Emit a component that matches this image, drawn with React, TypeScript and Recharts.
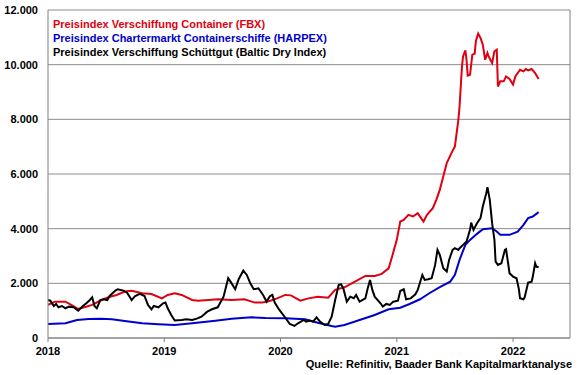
import React from 'react';
import { LineChart, Line, XAxis, YAxis, CartesianGrid, Legend, ReferenceLine } from 'recharts';

const FONT = '"Liberation Sans", Arial, Helvetica, sans-serif';

const seriesNames = [
  'Preisindex Verschiffung Container (FBX)',
  'Preisindex Chartermarkt Containerschiffe (HARPEX)',
  'Preisindex Verschiffung Schüttgut (Baltic Dry Index)',
];
const seriesColors = ['#E00010', '#0000CC', '#000000'];

const yearTicks = [2018, 2019, 2020, 2021, 2022];
const valueTicks = [0, 2000, 4000, 6000, 8000, 10000, 12000];
const xStart = 2018;
const xEnd = 2022.49;
const sourceNote = 'Quelle: Refinitiv, Baader Bank Kapitalmarktanalyse';

// FBX (container freight index)
const fbxDates = [
  2018.0, 2018.06, 2018.15, 2018.2, 2018.26, 2018.32, 2018.38, 2018.46, 2018.52, 2018.59, 2018.66, 2018.72, 2018.81, 2018.89, 2018.98,
  2019.03, 2019.09, 2019.15, 2019.24, 2019.29, 2019.38, 2019.46, 2019.58, 2019.69, 2019.78, 2019.84, 2019.89, 2019.95,
  2020.04, 2020.09, 2020.17, 2020.24, 2020.32, 2020.41, 2020.47, 2020.55, 2020.64, 2020.73, 2020.81, 2020.87, 2020.93, 2020.96,
  2021.0, 2021.03, 2021.06, 2021.1, 2021.14, 2021.18, 2021.23, 2021.26, 2021.31, 2021.34, 2021.37, 2021.43, 2021.47, 2021.5, 2021.53,
  2021.54, 2021.56, 2021.57, 2021.59, 2021.6, 2021.61, 2021.63, 2021.65, 2021.67, 2021.68, 2021.7, 2021.72, 2021.74, 2021.76, 2021.78,
  2021.79, 2021.82, 2021.84, 2021.86, 2021.87, 2021.89, 2021.92, 2021.94, 2021.97,
  2022.0, 2022.02, 2022.06, 2022.09, 2022.11, 2022.13, 2022.16, 2022.19, 2022.22,
];
const fbxValues = [
  1210, 1330, 1330, 1210, 1060, 1135, 1210, 1390, 1490, 1575, 1700, 1730, 1635, 1610, 1450,
  1575, 1640, 1575, 1390, 1365, 1390, 1415, 1390, 1415, 1295, 1295, 1330, 1415,
  1575, 1560, 1365, 1450, 1510, 1475, 1760, 1855, 2060, 2270, 2270, 2345, 2550, 2980,
  3590, 4260, 4320, 4505, 4445, 4565, 4260, 4505, 4750, 5055, 5420, 6400, 6765, 7010, 7985,
  8470, 9880, 10300, 10520, 10180, 9600, 9630, 10365, 10400, 10855, 11135, 10980, 10730, 10180, 10430,
  10300, 10060, 10490, 10550, 9200, 9390, 9390, 9570, 9475,
  9270, 9570, 9815, 9755, 9840, 9790, 9840, 9695, 9475,
];

// HARPEX (container ship charter index)
const harpexDates = [
  2018.0, 2018.15, 2018.25, 2018.35, 2018.46, 2018.55, 2018.66, 2018.81, 2018.95,
  2019.09, 2019.24, 2019.44, 2019.58, 2019.75, 2019.87,
  2020.04, 2020.21, 2020.32, 2020.44, 2020.47, 2020.55, 2020.7, 2020.81, 2020.93,
  2021.03, 2021.11, 2021.2, 2021.28, 2021.37, 2021.46, 2021.5, 2021.54, 2021.59, 2021.63, 2021.69, 2021.74, 2021.82, 2021.86, 2021.89, 2021.97,
  2022.04, 2022.09, 2022.13, 2022.17, 2022.22,
];
const harpexValues = [
  513, 537, 660, 695, 707, 685, 623, 537, 500,
  476, 537, 635, 707, 757, 733,
  720, 685, 560, 440, 415, 476, 685, 842, 1050,
  1110, 1245, 1417, 1637, 1857, 2062, 2308, 2857, 3407, 3590, 3810, 3981, 4018, 3894, 3773, 3773,
  3894, 4140, 4385, 4445, 4604,
];

// Baltic Dry Index
const bdiDates = [
  2018.0, 2018.02, 2018.05, 2018.07, 2018.09, 2018.12, 2018.15, 2018.18, 2018.22, 2018.26, 2018.3, 2018.33, 2018.36, 2018.38, 2018.4,
  2018.42, 2018.45, 2018.48, 2018.51, 2018.53, 2018.58, 2018.6, 2018.65, 2018.68, 2018.72, 2018.75, 2018.79, 2018.83, 2018.86, 2018.89,
  2018.91, 2018.95, 2018.99,
  2019.01, 2019.03, 2019.06, 2019.09, 2019.15, 2019.19, 2019.24, 2019.28, 2019.32, 2019.37, 2019.41, 2019.46, 2019.51, 2019.55, 2019.57,
  2019.61, 2019.64, 2019.68, 2019.71, 2019.74, 2019.77, 2019.81, 2019.85, 2019.88, 2019.91, 2019.93, 2019.95, 2019.99,
  2020.04, 2020.08, 2020.12, 2020.15, 2020.2, 2020.22, 2020.25, 2020.28, 2020.31, 2020.34, 2020.38, 2020.41, 2020.44, 2020.47, 2020.5,
  2020.52, 2020.54, 2020.57, 2020.6, 2020.63, 2020.65, 2020.68, 2020.73, 2020.75, 2020.77, 2020.79, 2020.81, 2020.86, 2020.88, 2020.91,
  2020.94, 2020.97,
  2021.01, 2021.03, 2021.06, 2021.08, 2021.12, 2021.16, 2021.18, 2021.22, 2021.24, 2021.27, 2021.3, 2021.33, 2021.35, 2021.37, 2021.4,
  2021.43, 2021.45, 2021.48, 2021.5, 2021.53, 2021.54, 2021.57, 2021.6, 2021.63, 2021.64, 2021.66, 2021.69, 2021.72, 2021.74, 2021.77,
  2021.78, 2021.8, 2021.82, 2021.84, 2021.85, 2021.87, 2021.9, 2021.93, 2021.94, 2021.97,
  2022.0, 2022.03, 2022.05, 2022.06, 2022.09, 2022.1, 2022.13, 2022.16, 2022.17, 2022.19, 2022.2, 2022.22,
];
const bdiValues = [
  1390, 1365, 1170, 1245, 1123, 1170, 1088, 1147, 1123, 1000, 1170, 1270, 1390, 1490, 1170,
  1088, 1390, 1417, 1390, 1538, 1733, 1784, 1733, 1660, 1390, 1538, 1612, 1538, 1209, 1051,
  1172, 1123, 1270,
  1300, 1088, 842, 640, 660, 685, 660, 707, 781, 964, 1051, 1123, 1513, 2187, 2062,
  1784, 2150, 2465, 2308, 2004, 1784, 1820, 1575, 1330, 1538, 1575, 1294, 1026,
  750, 513, 440, 537, 660, 598, 635, 598, 757, 598, 476, 513, 781, 1390, 1941,
  1965, 1820, 1330, 1513, 1454, 1575, 1330, 1454, 1820, 2125, 1758, 1513, 1270, 1147, 1245,
  1209, 1330,
  1366, 1720, 1784, 1417, 1450, 1600, 1758, 2308, 2125, 2150, 2187, 2674, 3223, 3040, 2553,
  2430, 2857, 3223, 3285, 3223, 3285, 3407, 3528, 3956, 4223, 3956, 4200, 4385, 4810, 5300,
  5520, 5055, 4200, 3590, 2795, 2674, 2735, 3223, 3248, 2370,
  2247, 2187, 1800, 1454, 1417, 1490, 2026, 2062, 2247, 2735, 2613, 2590,
];

const zip = (dates: number[], values: number[]) =>
  dates.map((t, i) => ({ t, v: values[i] })).filter((d) => d.v !== undefined);

const fbxData = zip(fbxDates, fbxValues);
const harpexData = zip(harpexDates, harpexValues);
const bdiData = zip(bdiDates, bdiValues);

const formatThousands = (v: number) => {
  const s = String(Math.round(v));
  return s.replace(/\B(?=(\d{3})+(?!\d))/g, '.');
};

const renderLegend = (props: any) => {
  const payload: any[] = (props && props.payload) || [];
  const sorted = [...payload].sort(
    (a, b) => seriesNames.indexOf(a.value) - seriesNames.indexOf(b.value)
  );
  return (
    <div
      style={{
        fontFamily: FONT,
        fontWeight: 'bold',
        fontSize: 11,
        lineHeight: '14px',
        whiteSpace: 'nowrap',
        textAlign: 'left',
      }}
    >
      {sorted.map((p) => (
        <div key={p.value} style={{ color: p.color }}>
          {p.value}
        </div>
      ))}
    </div>
  );
};

export default function App() {
  const tickStyle = { fontFamily: FONT, fontSize: 11, fontWeight: 'bold', fill: '#000' } as any;
  return (
    <div style={{ position: 'absolute', left: 0, top: 0, width: 580, height: 375, background: '#fff' }}>
      <LineChart
        width={580}
        height={375}
        margin={{ top: 10, right: 10, bottom: 17, left: 0 }}
      >
        <CartesianGrid vertical={false} stroke="#8c8c8c" strokeWidth={1} />
        <XAxis
          type="number"
          dataKey="t"
          domain={[xStart, xEnd]}
          ticks={yearTicks}
          allowDataOverflow
          height={20}
          tickSize={4}
          tickMargin={5}
          stroke="#808080"
          tick={tickStyle}
          tickFormatter={(v: number) => String(v)}
        />
        <YAxis
          type="number"
          domain={[0, 12000]}
          ticks={valueTicks}
          width={48}
          tickLine={false}
          tickSize={0}
          tickMargin={10}
          stroke="#808080"
          tick={tickStyle}
          tickFormatter={formatThousands}
        />
        <ReferenceLine x={xEnd} stroke="#808080" strokeWidth={1} ifOverflow="extendDomain" />
        <Legend
          layout="vertical"
          align="center"
          verticalAlign="middle"
          content={renderLegend}
          wrapperStyle={{ top: 17, left: 53, width: 330, height: 44 }}
        />
        <Line
          data={fbxData}
          dataKey="v"
          name={seriesNames[0]}
          stroke={seriesColors[0]}
          strokeWidth={2}
          dot={false}
          activeDot={false}
          type="linear"
          isAnimationActive={false}
        />
        <Line
          data={harpexData}
          dataKey="v"
          name={seriesNames[1]}
          stroke={seriesColors[1]}
          strokeWidth={2}
          dot={false}
          activeDot={false}
          type="linear"
          isAnimationActive={false}
        />
        <Line
          data={bdiData}
          dataKey="v"
          name={seriesNames[2]}
          stroke={seriesColors[2]}
          strokeWidth={2}
          dot={false}
          activeDot={false}
          type="linear"
          isAnimationActive={false}
        />
      </LineChart>
      <div
        style={{
          position: 'absolute',
          right: 8,
          top: 358,
          fontFamily: FONT,
          fontWeight: 'bold',
          fontSize: 11,
          lineHeight: '13px',
          whiteSpace: 'nowrap',
          color: '#000',
        }}
      >
        {sourceNote}
      </div>
    </div>
  );
}
